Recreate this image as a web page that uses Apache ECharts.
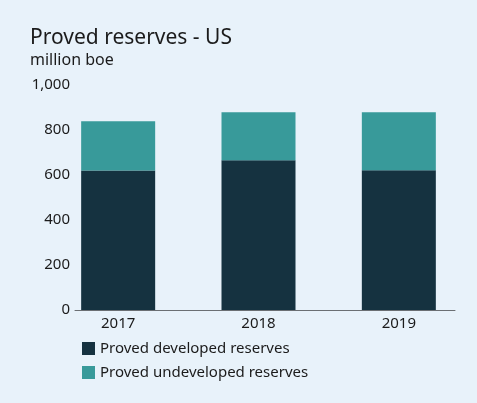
<!DOCTYPE html>
<html>
<head>
<meta charset="utf-8">
<script src="https://cdn.jsdelivr.net/npm/echarts@6/dist/echarts.min.js"></script>
<style>
  html, body { margin: 0; padding: 0; background: #e8f2fa; }
  #chart { width: 477px; height: 403px; }
</style>
</head>
<body>
<div id="chart"></div>
<script>
const years = ['2017', '2018', '2019']
const developed = [620, 666, 621]
const undeveloped = [219, 213, 258]
const yTicks = [0, 200, 400, 600, 800, 1000]

const font = 'Noto Sans'
const textColor = '#1b1b1b'

const option = {
  backgroundColor: '#e8f2fa',
  textStyle: { fontFamily: font },
  title: {
    text: 'Proved reserves - US',
    subtext: 'million boe',
    left: 25,
    top: 23,
    itemGap: 3,
    textStyle: { fontFamily: font, fontSize: 21, fontWeight: 'normal', color: textColor },
    subtextStyle: { fontFamily: font, fontSize: 16, color: textColor }
  },
  legend: {
    orient: 'vertical',
    left: 77,
    top: 336,
    icon: 'rect',
    itemWidth: 13,
    itemHeight: 13,
    itemGap: 9,
    textStyle: { fontFamily: font, fontSize: 15, color: textColor },
    data: ['Proved developed reserves', 'Proved undeveloped reserves']
  },
  grid: [
    // bars
    { left: 48, width: 421, top: 85, bottom: 93 },
    // axis line + y labels
    { left: 75, right: 22, top: 85, bottom: 93 }
  ],
  xAxis: [
    {
      gridIndex: 0,
      type: 'category',
      data: years,
      axisLine: { show: false },
      axisTick: { show: false },
      axisLabel: { fontFamily: font, fontSize: 15, color: textColor, margin: 6 }
    },
    {
      gridIndex: 1,
      type: 'category',
      data: [''],
      axisLine: { lineStyle: { color: '#6b6f73', width: 1 } },
      axisTick: { show: false },
      axisLabel: { show: false }
    }
  ],
  yAxis: [
    {
      gridIndex: 0,
      type: 'value',
      min: yTicks[0],
      max: yTicks[yTicks.length - 1],
      interval: 200,
      show: false
    },
    {
      gridIndex: 1,
      type: 'value',
      min: yTicks[0],
      max: yTicks[yTicks.length - 1],
      interval: 200,
      axisLine: { show: false },
      axisTick: { show: false },
      splitLine: { show: false },
      axisLabel: { fontFamily: font, fontSize: 15, color: textColor, margin: 5 }
    }
  ],
  series: [
    {
      name: 'Proved developed reserves',
      type: 'bar',
      stack: 'total',
      xAxisIndex: 0,
      yAxisIndex: 0,
      barWidth: 74,
      data: developed,
      itemStyle: { color: '#153240' }
    },
    {
      name: 'Proved undeveloped reserves',
      type: 'bar',
      stack: 'total',
      xAxisIndex: 0,
      yAxisIndex: 0,
      barWidth: 74,
      data: undeveloped,
      itemStyle: { color: '#389a9a' }
    }
  ]
}

const chart = echarts.init(document.getElementById('chart'))
chart.setOption(option)
</script>
</body>
</html>
